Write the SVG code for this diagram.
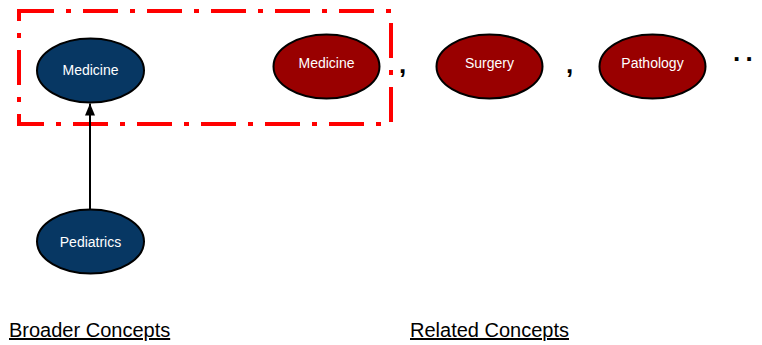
<svg xmlns="http://www.w3.org/2000/svg" width="762" height="345" viewBox="0 0 762 345">
<style>
  .lbl { font-family: "Liberation Sans", Arial, sans-serif; font-size: 14px; fill: #ffffff; text-anchor: middle; }
  .blue { fill: #073763; stroke: #000000; stroke-width: 2; }
  .red { fill: #990000; stroke: #000000; stroke-width: 2; }
  .cap { font-family: "Liberation Sans", Arial, sans-serif; font-size: 20px; fill: #000000; text-decoration: underline; }
  .punct { font-family: "Liberation Sans", Arial, sans-serif; font-weight: bold; fill: #000000; }
</style>
<defs>
  <marker id="arrow" viewBox="0 0 12 10" refX="12" refY="5" markerWidth="12" markerHeight="10" markerUnits="userSpaceOnUse" orient="auto">
    <path d="M0,0 L12,5 L0,10 z" fill="#000000"/>
  </marker>
</defs>
<rect x="19" y="11" width="372" height="113" fill="none" stroke="#ff0000" stroke-width="4" stroke-dasharray="35 12 5 12"/>
<g id="connectors">
  <line x1="90" y1="209" x2="90" y2="103.5" stroke="#000000" stroke-width="2" marker-end="url(#arrow)"/>
</g>
<g id="medicine-broader">
  <ellipse class="blue" cx="90.5" cy="70.5" rx="53.5" ry="32"/>
  <text class="lbl" x="90.5" y="75">Medicine</text>
</g>
<g id="pediatrics">
  <ellipse class="blue" cx="90.5" cy="241.5" rx="53.5" ry="32"/>
  <text class="lbl" x="90.5" y="247">Pediatrics</text>
</g>
<g id="medicine-related">
  <ellipse class="red" cx="326.5" cy="66.5" rx="53" ry="32"/>
  <text class="lbl" x="326.5" y="68">Medicine</text>
</g>
<g id="surgery">
  <ellipse class="red" cx="489.5" cy="66.5" rx="53" ry="32"/>
  <text class="lbl" x="489.5" y="68">Surgery</text>
</g>
<g id="pathology">
  <ellipse class="red" cx="652.5" cy="66.5" rx="53" ry="32"/>
  <text class="lbl" x="652.5" y="68">Pathology</text>
</g>
<text class="punct" x="399" y="73" font-size="26">,</text>
<text class="punct" x="566" y="73" font-size="26">,</text>
<text class="punct" x="733" y="61" font-size="26" letter-spacing="-1">. .</text>
<text class="cap" x="9" y="337">Broader Concepts</text>
<text class="cap" x="410" y="337">Related Concepts</text>
</svg>
